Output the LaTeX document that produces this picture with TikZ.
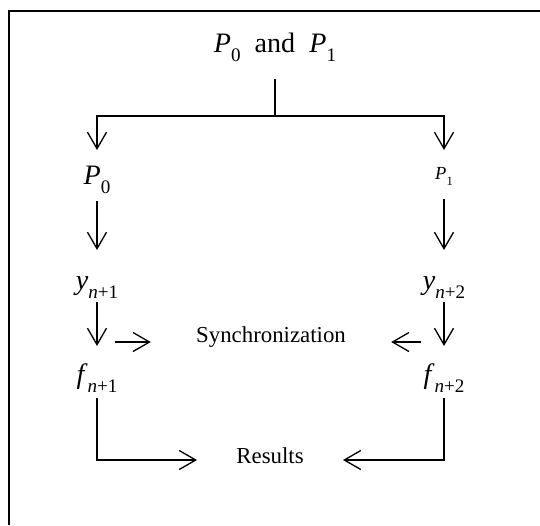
\documentclass[tikz,border=0pt]{standalone}
\usepackage{fontspec}
\setmainfont{Liberation Serif}
\usetikzlibrary{arrows.meta}

% italic letter with an upright, lowered index
\newcommand\isym[2]{\textit{#1}\raisebox{-0.7ex}{\scalebox{0.68}{#2}}}

\begin{document}
\begin{tikzpicture}[x=0.02cm,y=-0.02cm,
  lab/.style={inner sep=0pt,font=\fontsize{16}{18}\selectfont},
  tiny/.style={inner sep=0pt,font=\fontsize{10.5}{12}\selectfont},
  word/.style={inner sep=0pt,font=\fontsize{13}{15}\selectfont},
  ln/.style={draw=black,line width=0.75pt},
  arr/.style={ln,-{Straight Barb[length=3.3mm,width=3.8mm]}}]
\useasboundingbox (0,0) rectangle (540,525);

% ---------- frame (cut off on the right and below) ----------
\draw[line width=1.3pt] (9,525) -- (9,11) -- (540,11);

% ---------- nodes ----------
\node[lab] (top) at (275,47) {\isym{P}{0}\ \ and\ \ \isym{P}{1}};
\coordinate (fork) at (275,116);
\node[lab] (p0) at (97,180) {\isym{P}{0}};
\node[tiny] (p1) at (444,176) {\isym{P}{1}};
\node[lab] (y1) at (97,288) {\isym{y}{\textit{n}+1}};
\node[lab] (y2) at (444,288) {\isym{y}{\textit{n}+2}};
\node[lab] (f1) at (97,378) {\isym{f}{\textit{n}+1}};
\node[lab] (f2) at (444,378) {\isym{f}{\textit{n}+2}};
\node[word] (sync) at (271,337) {Synchronization};
\node[word] (res) at (270,456) {Results};
\coordinate (sl) at (115,342);
\coordinate (sr) at (421,342);

% ---------- split into the two branches ----------
\draw[ln,shorten <=0.64cm] (top.center) -- (fork);
\draw[arr,shorten >=0.6cm] (fork) -| (p0.center);
\draw[arr,shorten >=0.52cm] (fork) -| (p1.center);

% ---------- down each branch ----------
\draw[arr,shorten <=0.42cm,shorten >=0.76cm] (p0.center) -- (y1.center);
\draw[arr,shorten <=0.46cm,shorten >=0.76cm] (p1.center) -- (y2.center);
\draw[arr,shorten <=0.28cm,shorten >=0.64cm] (y1.center) -- (f1.center);
\draw[arr,shorten <=0.28cm,shorten >=0.64cm] (y2.center) -- (f2.center);

% ---------- synchronization ----------
\draw[arr,shorten >=0.9cm] (sl) -- (sl -| sync.west);
\draw[arr,shorten >=0.9cm] (sr) -- (sr -| sync.east);

% ---------- results ----------
\draw[arr,shorten <=0.4cm,shorten >=0.78cm] (f1.center) |- ([yshift=-0.08cm]res.west);
\draw[arr,shorten <=0.4cm,shorten >=0.78cm] (f2.center) |- ([yshift=-0.08cm]res.east);
\end{tikzpicture}
\end{document}
